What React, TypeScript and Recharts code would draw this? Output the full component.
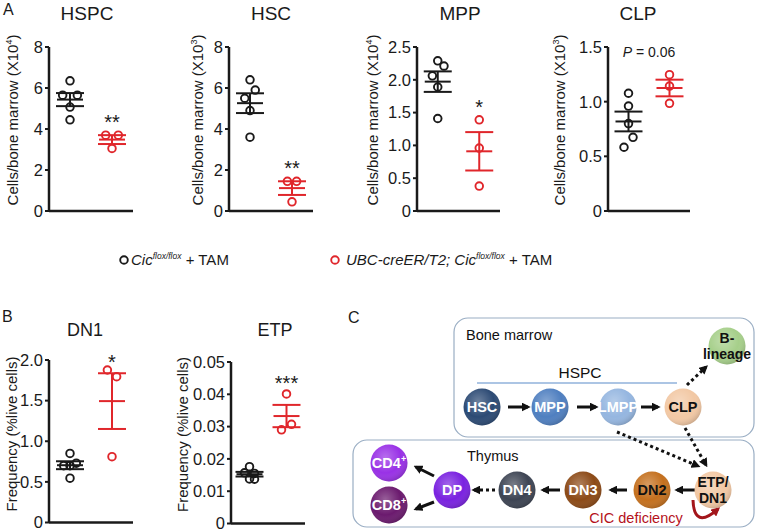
import React from "react";
import { ScatterChart, Scatter, XAxis, YAxis, ErrorBar, Label, ReferenceDot } from "recharts";

const BLACK = "#1a1a1a";
const RED = "#e0262b";
const FONT = "'Liberation Sans', Arial, Helvetica, sans-serif";

// A: cells per bone marrow, control (Cic f/f + TAM) vs knockout (UBC-creER/T2; Cic f/f + TAM)
const hspcCtrl = [6.35, 5.65, 5.65, 5.07, 4.45];
const hspcCtrlJit = [0, -0.35, 0.35, 0, 0];
const hspcKo = [3.7, 3.7, 3.05];
const hspcKoJit = [-0.3, 0.3, 0];

const hscCtrl = [6.4, 5.9, 5.5, 4.9, 3.6];
const hscCtrlJit = [0, 0.25, -0.25, 0, 0];
const hscKo = [1.45, 1.45, 0.45];
const hscKoJit = [-0.22, 0.22, 0];

const mppCtrl = [2.29, 2.21, 2.06, 1.89, 1.41];
const mppCtrlJit = [0, 0.3, -0.26, 0, 0];
const mppKo = [1.39, 0.96, 0.38];
const mppKoJit = [0, 0, 0];

const clpCtrl = [1.077, 0.96, 0.8, 0.674, 0.583];
const clpCtrlJit = [0, 0, 0, 0.22, -0.22];
const clpKo = [1.247, 1.143, 0.985];
const clpKoJit = [0, 0, 0];

// B: frequency (% live cells)
const dn1Ctrl = [0.85, 0.7, 0.7, 0.73, 0.545];
const dn1CtrlJit = [0, -0.3, 0, 0.3, 0];
const dn1Ko = [1.877, 1.795, 0.81];
const dn1KoJit = [-0.22, 0.22, 0];

const etpCtrl = [0.0176, 0.0157, 0.0155, 0.0138, 0.0137];
const etpCtrlJit = [0, -0.27, 0.27, 0, 0.27];
const etpKo = [0.0401, 0.029, 0.0307];
const etpKoJit = [0, -0.27, 0.27];

const ticksA1 = [0, 2, 4, 6, 8];
const ticksMpp = [0, 0.5, 1, 1.5, 2, 2.5];
const ticksClp = [0, 0.5, 1, 1.5];
const ticksDn1 = [0, 0.5, 1, 1.5, 2];
const ticksEtp = [0, 0.01, 0.02, 0.03, 0.04, 0.05];

const mean = (a: number[]) => a.reduce((s, v) => s + v, 0) / a.length;
const sem = (a: number[]) => {
  const m = mean(a);
  const sd = Math.sqrt(a.reduce((s, v) => s + (v - m) ** 2, 0) / (a.length - 1));
  return sd / Math.sqrt(a.length);
};

type PanelCfg = {
  title: string;
  titleX: number;
  titleY: number;
  titleSize: number;
  ctrl: number[];
  ctrlJit: number[];
  ko: number[];
  koJit: number[];
  ticks: number[];
  decimals: number;
  yLabel: string;
  sup?: string;
  sig: string;
  sigX: number;
  sigY: number;
  axisX: number;
  top: number;
  bottom: number;
  right: number;
  labelX: number;
  labelY: number;
};

const panels: PanelCfg[] = [
  { title: "HSPC", titleX: 87, titleY: 20, titleSize: 19, ctrl: hspcCtrl, ctrlJit: hspcCtrlJit, ko: hspcKo, koJit: hspcKoJit,
    ticks: ticksA1, decimals: 0, yLabel: "Cells/bone marrow (X10", sup: "4", sig: "**", sigX: 3, sigY: 4.54,
    axisX: 49, top: 47, bottom: 211, right: 133, labelX: 13, labelY: 120 },
  { title: "HSC", titleX: 271, titleY: 20, titleSize: 19, ctrl: hscCtrl, ctrlJit: hscCtrlJit, ko: hscKo, koJit: hscKoJit,
    ticks: ticksA1, decimals: 0, yLabel: "Cells/bone marrow (X10", sup: "3", sig: "**", sigX: 3, sigY: 2.29,
    axisX: 229, top: 47, bottom: 211, right: 313, labelX: 198, labelY: 120 },
  { title: "MPP", titleX: 460, titleY: 20, titleSize: 19, ctrl: mppCtrl, ctrlJit: mppCtrlJit, ko: mppKo, koJit: mppKoJit,
    ticks: ticksMpp, decimals: 1, yLabel: "Cells/bone marrow (X10", sup: "4", sig: "*", sigX: 3, sigY: 1.65,
    axisX: 417, top: 47, bottom: 211, right: 500, labelX: 373, labelY: 120 },
  { title: "CLP", titleX: 638, titleY: 20, titleSize: 19, ctrl: clpCtrl, ctrlJit: clpCtrlJit, ko: clpKo, koJit: clpKoJit,
    ticks: ticksClp, decimals: 1, yLabel: "Cells/bone marrow (X10", sup: "3", sig: "P", sigX: 2, sigY: 1.454,
    axisX: 608, top: 47, bottom: 211, right: 690, labelX: 560, labelY: 120 },
  { title: "DN1", titleX: 85, titleY: 336, titleSize: 18, ctrl: dn1Ctrl, ctrlJit: dn1CtrlJit, ko: dn1Ko, koJit: dn1KoJit,
    ticks: ticksDn1, decimals: 1, yLabel: "Frequency (%live cells)", sig: "*", sigX: 3, sigY: 2.02,
    axisX: 49, top: 360, bottom: 522.5, right: 133, labelX: 12, labelY: 434 },
  { title: "ETP", titleX: 275, titleY: 336, titleSize: 18, ctrl: etpCtrl, ctrlJit: etpCtrlJit, ko: etpKo, koJit: etpKoJit,
    ticks: ticksEtp, decimals: 2, yLabel: "Frequency (%live cells)", sig: "***", sigX: 3, sigY: 0.0446,
    axisX: 231, top: 361.5, bottom: 523, right: 305, labelX: 183, labelY: 434 },
];

const ring = (color: string) => (props: any) => (
  <circle cx={props.cx} cy={props.cy} r={3.8} fill="none" stroke={color} strokeWidth={1.9} />
);
const meanLine = (color: string) => (props: any) => (
  <line x1={props.cx - 13} x2={props.cx + 13} y1={props.cy} y2={props.cy} stroke={color} strokeWidth={2} />
);

function DotPanel({ p }: { p: PanelCfg }) {
  const MT = 12;
  const XH = 3;
  const MR = 8;
  const MB = 12;
  const boxLeft = p.labelX - 14;
  const top = p.top - MT;
  const w = p.right - boxLeft + MR;
  const h = p.bottom - p.top + MT + XH + MB;
  const ctrlPts = p.ctrl.map((y, i) => ({ x: 1 + p.ctrlJit[i], y }));
  const koPts = p.ko.map((y, i) => ({ x: 3 + p.koJit[i], y }));
  const ctrlSum = [{ x: 1, y: mean(p.ctrl), err: sem(p.ctrl) }];
  const koSum = [{ x: 3, y: mean(p.ko), err: sem(p.ko) }];
  const lx = p.labelX - boxLeft + 5;
  const ly = p.labelY - top;
  return (
    <div style={{ position: "absolute", left: boxLeft, top }}>
      <ScatterChart width={w} height={h} margin={{ top: MT, right: MR, bottom: MB, left: 0 }}>
        <XAxis type="number" dataKey="x" domain={[0, 4]} ticks={[]} tick={false} tickLine={false}
          axisLine={{ stroke: BLACK, strokeWidth: 2.5 }} height={XH} />
        <YAxis type="number" dataKey="y" domain={[0, p.ticks[p.ticks.length - 1]]} ticks={p.ticks} interval={0}
          width={p.axisX - boxLeft} tickSize={4} tickMargin={2}
          tickLine={{ stroke: BLACK, strokeWidth: 2 }} axisLine={{ stroke: BLACK, strokeWidth: 2.5 }}
          tick={{ fill: BLACK, fontSize: 16.5, fontFamily: FONT }}
          tickFormatter={(v: number) => (v === 0 ? "0" : v.toFixed(p.decimals))}>
          <Label content={() => (
            <text x={lx} y={ly} transform={`rotate(-90 ${lx} ${ly})`} textAnchor="middle" fontSize={15}
              fontFamily={FONT} fill={BLACK}>
              {p.yLabel}
              {p.sup ? (<><tspan dy={-6} fontSize={9}>{p.sup}</tspan><tspan dy={6}>)</tspan></>) : null}
            </text>
          )} />
        </YAxis>
        <Scatter data={ctrlSum} shape={meanLine(BLACK)} isAnimationActive={false}>
          <ErrorBar dataKey="err" direction="y" width={14} stroke={BLACK} strokeWidth={2} />
        </Scatter>
        <Scatter data={koSum} shape={meanLine(RED)} isAnimationActive={false}>
          <ErrorBar dataKey="err" direction="y" width={14} stroke={RED} strokeWidth={2} />
        </Scatter>
        <Scatter data={ctrlPts} shape={ring(BLACK)} isAnimationActive={false} />
        <Scatter data={koPts} shape={ring(RED)} isAnimationActive={false} />
        <ReferenceDot x={p.sigX} y={p.sigY} r={1} fill="none" stroke="none" ifOverflow="visible"
          label={{
            content: (props: any) => {
              const vb = props.viewBox || { x: 0, y: 0, width: 0, height: 0 };
              const cx = vb.x + (vb.width || 0) / 2;
              const cy = vb.y + (vb.height || 0) / 2;
              if (p.sig === "P") {
                return (
                  <text x={cx} y={cy + 5} textAnchor="middle" fontSize={14} fontFamily={FONT} fill={BLACK}>
                    <tspan fontStyle="italic">P</tspan> = 0.06
                  </text>
                );
              }
              return (
                <text x={cx} y={cy + 11} textAnchor="middle" fontSize={20} fontFamily={FONT} fill={BLACK}>
                  {p.sig}
                </text>
              );
            },
          }} />
      </ScatterChart>
    </div>
  );
}

type Node = { label: string[]; x: number; y: number; fill: string; text: string; sup?: string };
const nodes: Node[] = [
  { label: ["HSC"], x: 482, y: 407, fill: "#2c4a74", text: "#fff" },
  { label: ["MPP"], x: 550, y: 407, fill: "#4f7fc0", text: "#fff" },
  { label: ["LMPP"], x: 618, y: 407, fill: "#95b6e0", text: "#fff" },
  { label: ["CLP"], x: 683, y: 407, fill: "#f2c8a4", text: "#111" },
  { label: ["B-", "lineage"], x: 727, y: 346, fill: "#a6cf8a", text: "#111" },
  { label: ["ETP/", "DN1"], x: 713, y: 490, fill: "#f2c8a4", text: "#111" },
  { label: ["DN2"], x: 652, y: 490, fill: "#c4701e", text: "#111" },
  { label: ["DN3"], x: 583, y: 490, fill: "#8c4a17", text: "#fff" },
  { label: ["DN4"], x: 517, y: 490, fill: "#3d4453", text: "#fff" },
  { label: ["DP"], x: 452, y: 490, fill: "#7a22e0", text: "#fff" },
  { label: ["CD4"], x: 389, y: 463, fill: "#9931e6", text: "#fff", sup: "+" },
  { label: ["CD8"], x: 389, y: 505, fill: "#6b1a6e", text: "#fff", sup: "+" },
];

const solidArrows = [
  [508, 407, 528, 407], [577, 407, 596, 407], [641, 407, 658, 407],
  [695, 490, 677, 490], [627, 490, 611, 490], [560, 490, 543, 490],
  [434, 476, 416, 467], [434, 502, 416, 509],
];
const dottedArrows = [
  [495, 490, 474, 490], [687, 385, 706, 367], [617, 432, 698, 466], [685, 428, 706, 465],
];

function Diagram() {
  return (
    <g fontFamily={FONT}>
      <defs>
        <marker id="ah" viewBox="0 0 10 10" refX="7" refY="5" markerWidth="3" markerHeight="3" orient="auto">
          <path d="M0,0 L10,5 L0,10 z" fill="#111" />
        </marker>
        <marker id="ahr" viewBox="0 0 10 10" refX="7" refY="5" markerWidth="3" markerHeight="3" orient="auto">
          <path d="M0,0 L10,5 L0,10 z" fill="#a3161b" />
        </marker>
        <radialGradient id="shine" cx="0.4" cy="0.35" r="0.7">
          <stop offset="0" stopColor="#fff" stopOpacity="0.3" />
          <stop offset="0.6" stopColor="#fff" stopOpacity="0" />
          <stop offset="1" stopColor="#000" stopOpacity="0.2" />
        </radialGradient>
      </defs>
      <rect x={454} y={318} width={300} height={119} rx={14} fill="none" stroke="#9aaec4" strokeWidth={1.2} />
      <rect x={353} y={440} width={401} height={87} rx={14} fill="none" stroke="#9aaec4" strokeWidth={1.2} />
      <text x={466} y={340} fontSize={14.5} fill="#111">Bone marrow</text>
      <text x={467} y={461} fontSize={14.5} fill="#111">Thymus</text>
      <text x={580} y={378} fontSize={15.5} textAnchor="middle" fill="#111">HSPC</text>
      <line x1={477} x2={677} y1={383} y2={383} stroke="#5b8bc9" strokeWidth={1.2} />
      {solidArrows.map((a, i) => (
        <line key={i} x1={a[0]} y1={a[1]} x2={a[2]} y2={a[3]} stroke="#111" strokeWidth={3} markerEnd="url(#ah)" />
      ))}
      {dottedArrows.map((a, i) => (
        <line key={i} x1={a[0]} y1={a[1]} x2={a[2]} y2={a[3]} stroke="#111" strokeWidth={3}
          strokeDasharray="3 3" markerEnd="url(#ah)" />
      ))}
      {nodes.map((n) => (
        <g key={n.label.join("")}>
          <circle cx={n.x} cy={n.y} r={18.5} fill={n.fill} />
          <circle cx={n.x} cy={n.y} r={18.5} fill="url(#shine)" />
          {n.label.length === 1 ? (
            <text x={n.x} y={n.y + 5} textAnchor="middle" fontSize={14.5} fontWeight="bold" fill={n.text}>
              {n.label[0]}
              {n.sup ? <tspan dy={-6} fontSize={9}>{n.sup}</tspan> : null}
            </text>
          ) : (
            <text textAnchor="middle" fontSize={14} fontWeight="bold" fill={n.text}>
              <tspan x={n.x} y={n.y - 3}>{n.label[0]}</tspan>
              <tspan x={n.x} y={n.y + 13}>{n.label[1]}</tspan>
            </text>
          )}
        </g>
      ))}
      <path d="M 693 500 Q 694 530 718 509" fill="none" stroke="#a3161b" strokeWidth={3} markerEnd="url(#ahr)" />
      <text x={636} y={523} fontSize={14.5} textAnchor="middle" fill="#b5121b">CIC deficiency</text>
    </g>
  );
}

export default function App() {
  return (
    <div style={{ position: "absolute", left: 0, top: 0, width: 757, height: 531, background: "#fff", overflow: "hidden" }}>
      {panels.map((p) => (
        <DotPanel key={p.title} p={p} />
      ))}
      <svg width={757} height={531} style={{ position: "absolute", left: 0, top: 0, pointerEvents: "none" }}>
        <g fontFamily={FONT} fill={BLACK}>
          <text x={3} y={15} fontSize={16}>A</text>
          <text x={2} y={322} fontSize={16}>B</text>
          <text x={348} y={323} fontSize={16}>C</text>
          {panels.map((p) => (
            <text key={p.title} x={p.titleX} y={p.titleY} fontSize={p.titleSize} textAnchor="middle">{p.title}</text>
          ))}
          <circle cx={124} cy={260} r={3.8} fill="none" stroke={BLACK} strokeWidth={1.9} />
          <text x={131} y={265} fontSize={15}>
            <tspan fontStyle="italic">Cic</tspan>
            <tspan fontStyle="italic" fontSize={8.5} dy={-6}>flox/flox</tspan>
            <tspan dy={6}> + TAM</tspan>
          </text>
          <circle cx={335} cy={260} r={3.8} fill="none" stroke={RED} strokeWidth={1.9} />
          <text x={346} y={265} fontSize={15}>
            <tspan fontStyle="italic">UBC-creER/T2; Cic</tspan>
            <tspan fontStyle="italic" fontSize={8.5} dy={-6}>flox/flox</tspan>
            <tspan dy={6}> + TAM</tspan>
          </text>
        </g>
        <Diagram />
      </svg>
    </div>
  );
}
